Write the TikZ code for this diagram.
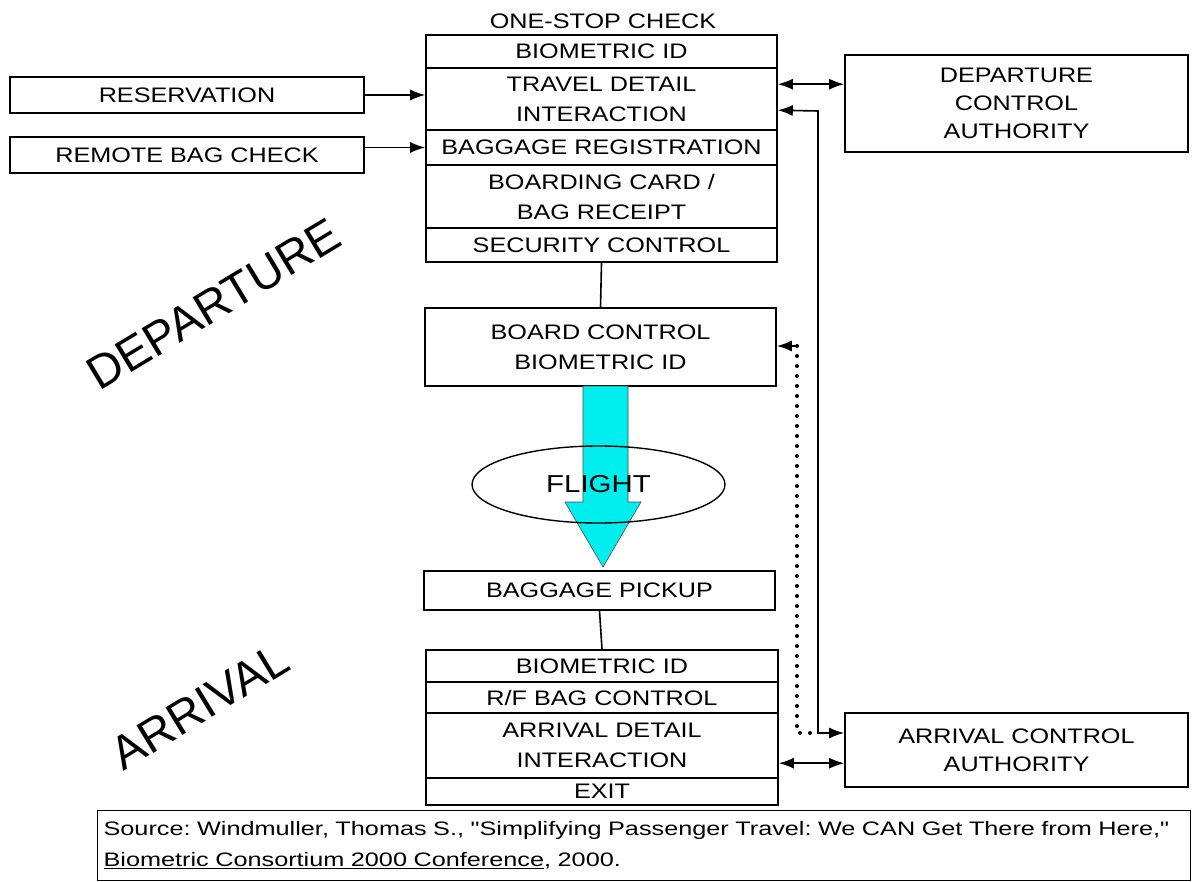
\documentclass[tikz,border=0pt]{standalone}
\usepackage{fontspec}
\setmainfont{Liberation Sans}
\newfontfamily\boxfont{Liberation Sans}[FakeStretch=1.2]
\newfontfamily\srcfont{Liberation Sans}[FakeStretch=1.295]
\usetikzlibrary{arrows.meta,shapes.geometric}
\definecolor{flightcyan}{RGB}{0,238,238}
\tikzset{
  box/.style={draw, line width=1.6pt, rectangle, inner sep=0pt, align=center,
    minimum width=351pt, font=\boxfont\fontsize{21}{30}\selectfont},
  plain/.style={line width=1.6pt},
  tip/.tip={Latex[length=15pt,width=11pt]},
  arr/.style={line width=1.6pt, -tip},
  dbl/.style={line width=1.6pt, tip-tip},
  dotline/.style={line width=4pt, line cap=round, dash pattern=on 0pt off 10pt},
  bigword/.style={font=\fontsize{47}{50}\selectfont, anchor=base, inner sep=0pt},
}
\begin{document}
\begin{tikzpicture}[x=1pt,y=-1pt]
\useasboundingbox (0,0) rectangle (1196,882);
\fill[white] (0,0) rectangle (1196,882);

% departure one-stop check
\node[font=\boxfont\fontsize{21}{29}\selectfont, inner sep=0pt] (title) at (603,21) {ONE-STOP CHECK};
\node[box, minimum height=33pt] (b1) at (601.5,51.5) {BIOMETRIC ID};
\node[box, minimum height=62pt] (b2) at (601.5,99) {TRAVEL DETAIL\\INTERACTION};
\node[box, minimum height=35pt] (b3) at (601.5,147.5) {BAGGAGE REGISTRATION};
\node[box, minimum height=63pt] (b4) at (601.5,196.5) {BOARDING CARD /\\BAG RECEIPT};
\node[box, minimum height=34pt] (b5) at (601.5,245) {SECURITY CONTROL};

\node[box, minimum width=354pt, minimum height=36pt] (res) at (187,95) {RESERVATION};
\node[box, minimum width=354pt, minimum height=36pt] (rbc) at (187,155) {REMOTE BAG CHECK};
\node[box, minimum width=343pt, minimum height=97pt, font=\boxfont\fontsize{21}{28}\selectfont] (dca) at (1016.5,103.5) {DEPARTURE\\CONTROL\\AUTHORITY};

\node[box, minimum height=78pt] (board) at (600.5,347) {BOARD CONTROL\\BIOMETRIC ID};

% flight arrow and ellipse
\filldraw[fill=flightcyan, draw=black!70, line width=0.6pt]
  (583,386) -- (583,502) -- (565,502) -- (603,567) -- (641,502) -- (628,502) -- (628,386) -- cycle;
\node[draw, ellipse, line width=1.4pt, minimum width=253pt, minimum height=77pt, inner sep=0pt,
  font=\boxfont\fontsize{24.5}{30}\selectfont] (flight) at (598.5,484.5) {FLIGHT};

\node[box, minimum height=39pt] (pickup) at (599.5,590.5) {BAGGAGE PICKUP};

% arrival
\node[box, minimum width=352pt, minimum height=32pt] (a1) at (602,666) {BIOMETRIC ID};
\node[box, minimum width=352pt, minimum height=31pt] (a2) at (602,697.5) {R/F BAG CONTROL};
\node[box, minimum width=352pt, minimum height=65pt] (a3) at (602,745.5) {ARRIVAL DETAIL\\INTERACTION};
\node[box, minimum width=352pt, minimum height=27pt] (a4) at (602,791.5) {EXIT};
\node[box, minimum width=343pt, minimum height=74pt, font=\boxfont\fontsize{21}{28}\selectfont] (aca) at (1016.5,750) {ARRIVAL CONTROL\\AUTHORITY};

% big labels
\node[bigword, rotate=31.1] (dep) at (222,318) {DEPARTURE};
\node[bigword, rotate=31.4] (arrv) at (208,720) {ARRIVAL};

% source
\node[draw, line width=1.2pt, anchor=north west, text width=1081pt, minimum height=70pt,
  inner xsep=6pt, inner ysep=0pt, align=left, font=\srcfont\fontsize{19.5}{31}\selectfont] (src) at (97,810)
  {\frenchspacing Source: Windmuller, Thomas S., \symbol{34}Simplifying Passenger Travel: We CAN Get There from Here,\symbol{34}\\
   \underline{Biometric Consortium 2000 Conference}, 2000.};

% connectors
\draw[arr] (res.east) -- (res.east -| b2.west);
\draw[arr] (rbc.east |- b3.west) -- (b3.west);
\coordinate (p1) at ([yshift=-17pt]b2.north east);
\draw[dbl] (p1) -- (p1 -| dca.west);
\coordinate (p2) at ([yshift=-43pt]b2.north east);
\coordinate (c1) at (818,111);
\coordinate (c2) at (818,733);
\draw[dbl] (p2) -- (c1) -- (c2) -- (c2 -| aca.west);
\coordinate (d1) at (797,346);
\coordinate (d2) at (797,733);
\draw[dotline] (d1) -- (d2) -- (c2);
\draw[arr] (d1) -- (d1 -| board.east);
\draw[plain] (b5.south) -- (board.north);
\draw[plain] (pickup.south) -- (a1.north);
\coordinate (p3) at ([yshift=-51pt]a3.north east);
\draw[dbl] (p3) -- (p3 -| aca.west);
\end{tikzpicture}
\end{document}
